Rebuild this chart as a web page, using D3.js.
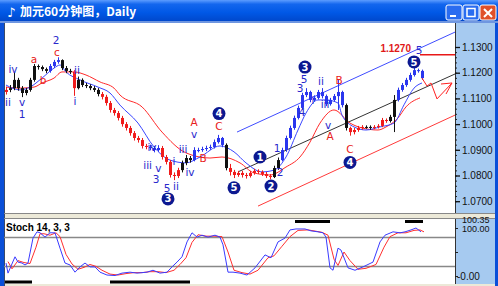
<!DOCTYPE html>
<html>
<head>
<meta charset="utf-8">
<script src="https://cdn.jsdelivr.net/npm/d3@7/dist/d3.min.js"></script>
<style>
  body { margin: 0; background: #fff; }
</style>
</head>
<body>
<div id="chart"></div>
<script>
// price bars, one per hour (bar 0 .. 104)
var opens = [1.1125,1.1133,1.1140,1.1172,1.1140,1.1121,1.1133,1.1172,1.1226,1.1222,1.1214,1.1207,1.1226,1.1242,1.1249,1.1218,1.1207,1.1203,1.1140,1.1172,1.1152,1.1148,1.1140,1.1133,1.1117,1.1106,1.1082,1.1055,1.1043,1.1024,1.1000,1.0985,1.0965,1.0946,1.0938,1.0915,1.0911,1.0907,1.0899,1.0907,1.0872,1.0853,1.0802,1.0798,1.0821,1.0849,1.0868,1.0860,1.0899,1.0899,1.0903,1.0907,1.0911,1.0930,1.0946,1.0919,1.0829,1.0814,1.0802,1.0810,1.0802,1.0798,1.0810,1.0818,1.0814,1.0806,1.0798,1.0794,1.0829,1.0860,1.0899,1.0946,1.0985,1.1024,1.1063,1.1113,1.1125,1.1094,1.1102,1.1125,1.1109,1.1078,1.1094,1.1109,1.1125,1.1074,1.0985,1.0969,1.0977,1.0985,1.0989,1.0989,1.0985,1.0989,1.0993,1.1016,1.1012,1.1028,1.1094,1.1133,1.1152,1.1172,1.1191,1.1210,1.1207];
var highs = [1.1145,1.1152,1.1200,1.1180,1.1148,1.1141,1.1180,1.1234,1.1232,1.1228,1.1220,1.1234,1.1250,1.1260,1.1252,1.1226,1.1215,1.1210,1.1185,1.1178,1.1160,1.1155,1.1148,1.1140,1.1125,1.1114,1.1090,1.1063,1.1051,1.1032,1.1008,1.0993,1.0973,1.0954,1.0946,1.0923,1.0920,1.0915,1.0918,1.0915,1.0880,1.0860,1.0812,1.0830,1.0858,1.0880,1.0876,1.0910,1.0908,1.0912,1.0916,1.0920,1.0940,1.0958,1.0950,1.0925,1.0845,1.0822,1.0818,1.0818,1.0810,1.0818,1.0826,1.0824,1.0820,1.0814,1.0806,1.0838,1.0870,1.0908,1.0955,1.0994,1.1033,1.1072,1.1122,1.1140,1.1130,1.1112,1.1133,1.1140,1.1115,1.1102,1.1117,1.1172,1.1130,1.1080,1.0990,1.0985,1.0993,1.0996,1.0995,1.0995,1.0996,1.1000,1.1024,1.1022,1.1036,1.1113,1.1142,1.1160,1.1180,1.1200,1.1222,1.1216,1.1212];
var lows = [1.1115,1.1124,1.1132,1.1130,1.1105,1.1112,1.1126,1.1165,1.1212,1.1206,1.1198,1.1200,1.1218,1.1235,1.1210,1.1198,1.1195,1.1110,1.1135,1.1144,1.1140,1.1132,1.1125,1.1108,1.1096,1.1072,1.1045,1.1033,1.1014,1.0990,1.0975,1.0955,1.0936,1.0928,1.0905,1.0902,1.0898,1.0890,1.0892,1.0862,1.0843,1.0792,1.0782,1.0790,1.0812,1.0840,1.0850,1.0855,1.0890,1.0892,1.0895,1.0900,1.0905,1.0924,1.0910,1.0820,1.0800,1.0790,1.0795,1.0792,1.0788,1.0792,1.0803,1.0806,1.0798,1.0790,1.0785,1.0790,1.0822,1.0855,1.0892,1.0940,1.0978,1.1018,1.1056,1.1105,1.1085,1.1088,1.1096,1.1100,1.1070,1.1072,1.1088,1.1055,1.1065,1.0975,1.0955,1.0960,1.0970,1.0978,1.0982,1.0978,1.0980,1.0983,1.0988,1.1005,1.1006,1.0969,1.1088,1.1126,1.1145,1.1165,1.1185,1.1200,1.1172];
var closes = [1.1133,1.1140,1.1172,1.1140,1.1121,1.1133,1.1172,1.1226,1.1222,1.1214,1.1207,1.1226,1.1242,1.1249,1.1218,1.1207,1.1203,1.1140,1.1172,1.1152,1.1148,1.1140,1.1133,1.1117,1.1106,1.1082,1.1055,1.1043,1.1024,1.1000,1.0985,1.0965,1.0946,1.0938,1.0915,1.0911,1.0907,1.0899,1.0907,1.0872,1.0853,1.0802,1.0798,1.0821,1.0849,1.0868,1.0860,1.0899,1.0899,1.0903,1.0907,1.0911,1.0930,1.0946,1.0919,1.0829,1.0814,1.0802,1.0810,1.0802,1.0798,1.0810,1.0818,1.0814,1.0806,1.0798,1.0794,1.0829,1.0860,1.0899,1.0946,1.0985,1.1024,1.1063,1.1113,1.1125,1.1094,1.1102,1.1125,1.1109,1.1078,1.1094,1.1109,1.1125,1.1074,1.0985,1.0969,1.0977,1.0985,1.0989,1.0989,1.0985,1.0989,1.0993,1.1016,1.1012,1.1028,1.1094,1.1133,1.1152,1.1172,1.1191,1.1210,1.1207,1.1179];
// leg of each bar: d = falling wave, u = rising wave, n = plain
var legs = "d" + "n" + "nnnnnnnnn" + "uuu" + "nnn" + "d" + "nnnnnn" + "dddddddddddd" + "uuu" + "ddddd" + "nnn" +
           "uuuuuuuu" + "n" + "ddddddddddd" + "nn" + "uuuuuuuuuuuuuuuu" + "n" + "dddd" + "nn" + "dddd" + "nn" + "uuuuuuu";

// moving averages, read at a few bars
var maFastBars = [0,3.5,6,9,12,13.5,15,18.5,23,26,28.5,33,37,41,45,48.5,53.5,57,60,64,67,70,73,75,78,80,83,84,87,90,93.5,97,99.5,102,104];
var maFast = [1.1152,1.1133,1.1144,1.1179,1.1218,1.1230,1.1203,1.1172,1.1144,1.1121,1.1074,1.1004,1.0911,1.0860,1.0849,1.0872,1.0915,1.0892,1.0849,1.0814,1.0821,1.0872,1.0977,1.1043,1.1094,1.1094,1.1082,1.1035,1.0989,1.0977,1.0989,1.1004,1.1075,1.1140,1.1160];
var maSlowBars = [0,3.5,7,9,12,14,17,20,23.5,27,28.5,34,39,45,51,54,58.5,62,66,70,73.5,76,78.5,82,86,89,93,95,98,100,103.5];
var maSlow = [1.1144,1.1140,1.1144,1.1160,1.1179,1.1203,1.1203,1.1191,1.1164,1.1140,1.1113,1.1067,1.0969,1.0888,1.0868,1.0872,1.0849,1.0810,1.0802,1.0833,1.0872,1.0930,1.1004,1.1055,1.1004,1.0985,1.0977,1.0989,1.1024,1.1067,1.1102];

// channel lines [bar, price] -> [bar, price]
var channelUpper = [[57.75, 1.0969], [112.25, 1.1358]];
var channelMid = [[58, 1.0814], [112.25, 1.1195]];
var channelLower = [[63, 1.0681], [112.25, 1.1035]];
var targetLevel = 1.1270, targetFrom = 103.5, targetTo = 112.25;
var projection = [[104, 1.1179], [105.25, 1.1148], [106.25, 1.1160], [107.75, 1.1098], [111.5, 1.1160]];
var projectionHead = [[108.75, 1.1156], [111.5, 1.1160], [110, 1.1117]];

// wave counts: text, bar, price, kind (b blue, r red, c circled)
var waveLabels = [
  ["ii", 0.5, 1.1086, "b"], ["iv", 1.75, 1.1214, "b"], ["v", 4, 1.1084, "b"], ["1", 4, 1.1037, "b"],
  ["a", 7, 1.1253, "r"], ["b", 9.25, 1.1172, "r"], ["2", 12.5, 1.1325, "b"], ["c", 12.75, 1.1280, "r"],
  ["ii", 17.75, 1.1211, "b"], ["i", 17.25, 1.1090, "b"],
  ["iv", 36.5, 1.0909, "b"], ["iii", 35.4, 1.0841, "b"], ["v", 38.1, 1.0829, "b"], ["3", 37.5, 1.0784, "b"],
  ["5", 40.25, 1.0752, "b"], ["ii", 42.5, 1.0759, "b"], ["i", 42, 1.0857, "b"], ["iii", 44.25, 1.0903, "b"],
  ["iv", 46, 1.0814, "b"], ["v", 47, 1.0962, "b"], ["A", 47, 1.1006, "r"], ["B", 49.25, 1.0868, "r"],
  ["C", 53.25, 1.0993, "r"], ["4", 53.25, 1.1041, "c"], ["5", 57, 1.0752, "c"], ["3", 40.5, 1.0709, "c"],
  ["1", 63.5, 1.0872, "c"], ["2", 66.25, 1.0759, "c"], ["1", 67.75, 1.0907, "b"], ["2", 68.5, 1.0814, "b"],
  ["3", 73.5, 1.1139, "b"], ["5", 74.5, 1.1174, "b"], ["4", 74, 1.1047, "b"], ["3", 74.75, 1.1222, "c"],
  ["ii", 78.75, 1.1168, "b"], ["i", 76.75, 1.1094, "b"], ["iii", 79.75, 1.1078, "b"], ["v", 80.5, 1.0995, "b"],
  ["A", 81, 1.0952, "r"], ["B", 83.25, 1.1172, "r"], ["C", 86, 1.0901, "r"], ["4", 86, 1.0851, "c"],
  ["5", 102, 1.1242, "c"], ["5", 103.25, 1.1286, "b"]
];

// stochastic 14,3,3
var stochKBars = [0,0.5,2.25,3,4,4.75,5.5,6.75,7.75,8.5,9.75,11,12.25,13.5,14.75,16,17.25,18.5,19.75,21,22.25,23.5,25.25,27.25,29,31,32.75,35.25,36.75,38.5,40.25,41.5,42.75,44,45.25,46.5,47.75,49,50.5,52.25,53.5,54.25,55.5,56.75,58.5,60.25,62.25,64.75,66.25,68,69.75,71,72.5,74.75,76.25,78,79.25,80,81,81.75,83,83.75,85.5,87.25,89.25,91.75,93.5,94.75,96.75,98.5,99.75,101.25,102.5,103.75];
var stochK = [27,6,40,29,27,23,27,79,92,90,81,90,90,58,27,23,8,19,27,19,19,8,2,1,6,8,6,8,12,6,8,19,29,40,71,90,81,85,81,85,81,65,8,8,6,2,17,44,38,71,79,96,98,98,94,92,90,81,17,12,58,54,17,12,19,29,71,85,92,90,92,96,100,92];
var stochDBars = [0.5,1.5,3,4.5,6,7.5,8.5,9.5,11,12.5,13.5,15,16.5,18,19.5,21,22.5,24,26,28,30,32,34,36,38,40,42,43.5,45,46.5,48,50,52,54,55.5,57,59,61,63,65.5,67,69,71,73,75.5,77,79,80.5,82,83,84.5,86,88,90,92.5,94.5,96,98,100,102,103.5,104.5];
var stochD = [30,15,32,28,26,60,88,88,85,90,82,45,25,14,18,24,20,12,4,2,5,7,7,9,9,7,12,24,38,70,86,83,83,82,50,12,7,4,12,38,42,62,82,95,96,94,91,85,35,22,50,32,14,16,24,60,82,90,90,95,96,92];
var stochLevels = [20, 80];
var oversoldZones = [[-0.25, 6.5], [26, 46]];
var overboughtZones = [[72.25, 81], [99.75, 104.25]];

var priceTicks = [1.07, 1.08, 1.09, 1.10, 1.11, 1.12, 1.13];
var title = "加元60分钟图，Daily";

// layout
var W = 498, H = 286;
var plotLeft = 4, plotRight = 455,
    mainTop = 23, mainBottom = 213,
    stochTop = 219, stochBottom = 284;

var x = d3.scaleLinear().domain([-1.5, 112.25]).range([0, plotRight]);
var y = d3.scaleLinear().domain([1.07, 1.13]).range([201.2, 47]);
var ys = d3.scaleLinear().domain([0, 100]).range([276, 228]);

var legColor = {d: "#f01c1c", u: "#2a36ee", n: "#111"};

var svg = d3.select("#chart")
  .append("svg")
    .attr("width", W)
    .attr("height", H)
    .style("display", "block")
    .style("font-family", "'Liberation Sans', Arial, sans-serif");

var defs = svg.append("defs");
var tg = defs.append("linearGradient").attr("id", "titleGrad").attr("x1", 0).attr("y1", 0).attr("x2", 0).attr("y2", 1);
tg.append("stop").attr("offset", "0%").attr("stop-color", "#5c9cff");
tg.append("stop").attr("offset", "20%").attr("stop-color", "#1366ee");
tg.append("stop").attr("offset", "60%").attr("stop-color", "#0058e6");
tg.append("stop").attr("offset", "100%").attr("stop-color", "#0048cc");
defs.append("clipPath").attr("id", "mainClip").append("rect")
  .attr("x", plotLeft).attr("y", mainTop).attr("width", plotRight - plotLeft).attr("height", mainBottom - mainTop);
defs.append("clipPath").attr("id", "stochClip").append("rect")
  .attr("x", plotLeft).attr("y", stochTop).attr("width", plotRight - plotLeft).attr("height", stochBottom - stochTop);

// window frame
svg.append("rect").attr("width", W).attr("height", H).attr("fill", "#0a4fd8");
svg.append("rect").attr("x", plotLeft).attr("y", mainTop).attr("width", W - plotLeft - 3).attr("height", H - mainTop)
  .attr("fill", "#fff");
svg.append("rect").attr("width", W).attr("height", 21).attr("fill", "url(#titleGrad)");
svg.append("rect").attr("x", 0).attr("y", 21).attr("width", W).attr("height", 2).attr("fill", "#6f96e0");
svg.append("line").attr("x1", plotLeft + 0.5).attr("x2", plotLeft + 0.5).attr("y1", mainTop).attr("y2", H)
  .attr("stroke", "#3a4a6a");

// title
svg.append("text").attr("x", 7).attr("y", 17).attr("fill", "#fff")
  .style("font-family", "'DejaVu Sans'").style("font-size", "13px").style("font-weight", "bold").text("♪");
svg.append("text").attr("x", 20).attr("y", 16).attr("fill", "#fff")
  .style("font-family", "'Noto Sans CJK SC', 'DejaVu Sans Mono'")
  .style("font-size", "12px").style("font-weight", "bold")
  .text(title);

// window buttons
var buttons = [{x: 446, c: "#2a6cf0"}, {x: 463, c: "#2a6cf0"}, {x: 480, c: "#e0502a"}];
svg.selectAll(".btn").data(buttons).enter().append("rect")
  .attr("class", "btn")
  .attr("x", function(d) { return d.x; }).attr("y", 5)
  .attr("width", 16).attr("height", 15).attr("rx", 2)
  .attr("fill", function(d) { return d.c; })
  .attr("stroke", "#fff").attr("stroke-width", 1);
svg.append("rect").attr("x", 450).attr("y", 15).attr("width", 6).attr("height", 2).attr("fill", "#fff");
svg.append("rect").attr("x", 467).attr("y", 8.5).attr("width", 8).attr("height", 8)
  .attr("fill", "none").attr("stroke", "#fff").attr("stroke-width", 1.5);
svg.append("path").attr("d", "M484,9L492,17M492,9L484,17").attr("stroke", "#fff").attr("stroke-width", 2);

// right price panel
svg.append("rect").attr("x", plotRight).attr("y", mainTop).attr("width", W - plotRight - 3).attr("height", H - mainTop)
  .attr("fill", "#a6caf0");
svg.append("line").attr("x1", plotRight + 0.5).attr("x2", plotRight + 0.5).attr("y1", mainTop).attr("y2", H)
  .attr("stroke", "#333");

// panel divider
svg.append("rect").attr("x", plotLeft + 1).attr("y", mainBottom).attr("width", W - plotLeft - 4).attr("height", stochTop - mainBottom)
  .attr("fill", "#ece9d8");
svg.append("line").attr("x1", plotLeft).attr("x2", W - 3).attr("y1", mainBottom + 0.5).attr("y2", mainBottom + 0.5).attr("stroke", "#888");
svg.append("line").attr("x1", plotLeft).attr("x2", W - 3).attr("y1", stochTop - 0.5).attr("y2", stochTop - 0.5).attr("stroke", "#888");
svg.append("rect").attr("x", plotLeft + 1).attr("y", stochBottom).attr("width", W - plotLeft - 4).attr("height", H - stochBottom)
  .attr("fill", "#ece9d8");

// price axis
var axisG = svg.append("g").attr("transform", "translate(" + plotRight + ",0)");
axisG.append("g")
  .call(d3.axisRight(y).ticks(40).tickSize(2).tickFormat(""))
  .call(function(g) { g.select(".domain").remove(); g.selectAll("line").attr("stroke", "#222"); });
axisG.append("g")
  .call(d3.axisRight(y).tickValues(priceTicks).tickSize(5).tickPadding(2).tickFormat(d3.format(".4f")))
  .call(function(g) {
    g.select(".domain").remove();
    g.selectAll("line").attr("stroke", "#111").attr("stroke-width", 1.3);
    g.selectAll("text").attr("fill", "#111").style("font-size", "10px").style("font-family", "'Liberation Sans', Arial");
  });

// main plot
var main = svg.append("g").attr("clip-path", "url(#mainClip)");

// channel
var seg = d3.line().x(function(d) { return x(d[0]); }).y(function(d) { return y(d[1]); });
main.append("path").attr("d", seg(channelUpper)).attr("stroke", "#3f4cff").attr("fill", "none");
main.append("path").attr("d", seg(channelMid)).attr("stroke", "#333").attr("fill", "none");
main.append("path").attr("d", seg(channelLower)).attr("stroke", "#ff3a3a").attr("fill", "none");

// moving averages
var maLine = d3.line().curve(d3.curveMonotoneX).x(function(d) { return x(d[0]); }).y(function(d) { return y(d[1]); });
main.append("path").attr("d", maLine(d3.zip(maSlowBars, maSlow)))
  .attr("stroke", "#ff2a2a").attr("stroke-width", 1).attr("fill", "none");
main.append("path").attr("d", maLine(d3.zip(maFastBars, maFast)))
  .attr("stroke", "#3a46ff").attr("stroke-width", 1).attr("fill", "none");

// candles
var bars = closes.map(function(c, i) {
  return {i: i, o: opens[i], h: highs[i], l: lows[i], c: c, leg: legs[i]};
});
var candle = main.selectAll(".candle").data(bars).enter().append("g").attr("class", "candle");
candle.append("line")
  .attr("x1", function(d) { return x(d.i) + 0.5; })
  .attr("x2", function(d) { return x(d.i) + 0.5; })
  .attr("y1", function(d) { return y(d.h); })
  .attr("y2", function(d) { return y(d.l); })
  .attr("stroke", function(d) { return legColor[d.leg]; });
candle.append("rect")
  .attr("x", function(d) { return x(d.i) - 1; })
  .attr("width", 3)
  .attr("y", function(d) { return y(Math.max(d.o, d.c)); })
  .attr("height", function(d) { return Math.max(1, Math.abs(y(d.o) - y(d.c))); })
  .attr("fill", function(d) { return legColor[d.leg]; });

// target level
main.append("line")
  .attr("x1", x(targetFrom)).attr("x2", x(targetTo))
  .attr("y1", y(targetLevel)).attr("y2", y(targetLevel))
  .attr("stroke", "#e81818").attr("stroke-width", 1.5);
main.append("text")
  .attr("x", x(targetFrom) - 9).attr("y", y(targetLevel) - 2.5)
  .attr("text-anchor", "end")
  .attr("fill", "#e01818")
  .style("font-size", "10px").style("font-weight", "bold")
  .text(d3.format(".4f")(targetLevel));

// projected path
main.append("path").attr("d", seg(projection)).attr("stroke", "#ff2020").attr("fill", "none").attr("stroke-width", 1);
main.append("path").attr("d", seg(projectionHead)).attr("stroke", "#ff2020").attr("fill", "none").attr("stroke-width", 1);

// wave labels
var labels = main.selectAll(".wave").data(waveLabels).enter().append("g").attr("class", "wave")
  .attr("transform", function(d) { return "translate(" + x(d[1]) + "," + y(d[2]) + ")"; });
labels.filter(function(d) { return d[3] === "c"; }).append("circle")
  .attr("r", 6.5).attr("fill", "#0c1890");
labels.append("text")
  .attr("text-anchor", "middle")
  .attr("dy", "0.36em")
  .attr("fill", function(d) { return d[3] === "c" ? "#fff" : (d[3] === "r" ? "#e82020" : "#2828cc"); })
  .style("font-size", function(d) { return d[3] === "c" ? "10px" : "10.5px"; })
  .style("font-weight", function(d) { return d[3] === "c" ? "bold" : "normal"; })
  .style("font-family", "'DejaVu Sans', sans-serif")
  .text(function(d) { return d[0]; });

// stochastic panel
var stoch = svg.append("g").attr("clip-path", "url(#stochClip)");
stoch.selectAll(".lvl").data(stochLevels).enter().append("line")
  .attr("x1", plotLeft).attr("x2", plotRight)
  .attr("y1", function(d) { return ys(d); }).attr("y2", function(d) { return ys(d); })
  .attr("stroke", "#888").attr("stroke-width", 1.5);
stoch.selectAll(".os").data(oversoldZones).enter().append("line")
  .attr("x1", function(d) { return x(d[0]); }).attr("x2", function(d) { return x(d[1]); })
  .attr("y1", 282).attr("y2", 282)
  .attr("stroke", "#000").attr("stroke-width", 3);
stoch.selectAll(".ob").data(overboughtZones).enter().append("line")
  .attr("x1", function(d) { return x(d[0]); }).attr("x2", function(d) { return x(d[1]); })
  .attr("y1", 221.5).attr("y2", 221.5)
  .attr("stroke", "#000").attr("stroke-width", 3);

var stLine = d3.line().curve(d3.curveLinear).x(function(d) { return x(d[0]); }).y(function(d) { return ys(d[1]); });
stoch.append("path").attr("d", stLine(d3.zip(stochDBars, stochD)))
  .attr("stroke", "#ff3030").attr("stroke-width", 1).attr("fill", "none");
stoch.append("path").attr("d", stLine(d3.zip(stochKBars, stochK)))
  .attr("stroke", "#3a3aff").attr("stroke-width", 1).attr("fill", "none");

svg.append("text").attr("x", 6).attr("y", 231)
  .attr("fill", "#000").style("font-size", "10px").style("font-weight", "bold")
  .text("Stoch 14, 3, 3");

// stochastic axis
var sAxis = svg.append("g").attr("transform", "translate(" + plotRight + ",0)");
sAxis.append("g")
  .call(d3.axisRight(ys).tickValues([0, 50, 100]).tickSize(3).tickFormat(""))
  .call(function(g) { g.select(".domain").remove(); g.selectAll("line").attr("stroke", "#222"); });
sAxis.append("text").attr("x", 7).attr("y", 223).attr("fill", "#111").style("font-size", "9px").text("100.35");
sAxis.append("text").attr("x", 7).attr("y", 232).attr("fill", "#111").style("font-size", "9px").text("100.00");
sAxis.append("text").attr("x", 2).attr("y", ys(0) + 3.5).attr("fill", "#111").style("font-size", "10px").text("-0.00");
</script>
</body>
</html>
